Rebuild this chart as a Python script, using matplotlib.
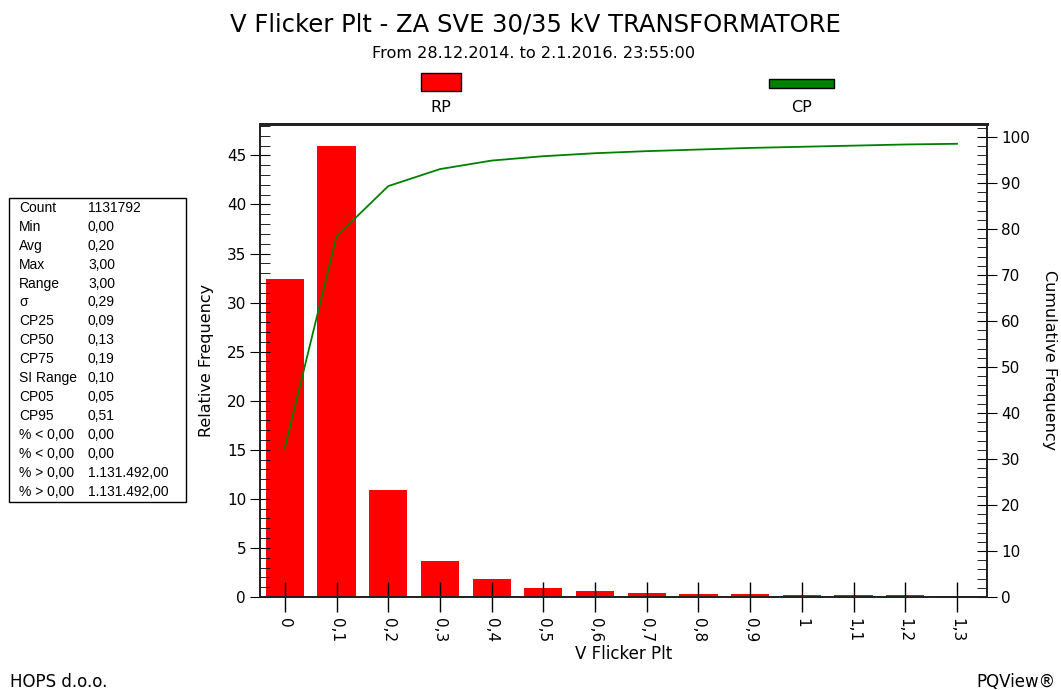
import matplotlib
matplotlib.use("Agg")
import matplotlib.pyplot as plt
from matplotlib.patches import Rectangle
from matplotlib.ticker import MultipleLocator

categories = [0.0, 0.1, 0.2, 0.3, 0.4, 0.5, 0.6, 0.7, 0.8, 0.9, 1.0, 1.1, 1.2, 1.3]
tick_labels = ["0", "0,1", "0,2", "0,3", "0,4", "0,5", "0,6", "0,7", "0,8", "0,9", "1", "1,1", "1,2", "1,3"]
rp_values = [32.4, 46.0, 10.9, 3.7, 1.85, 0.95, 0.65, 0.45, 0.35, 0.35, 0.25, 0.25, 0.25, 0.15]
cp_values = [32.4, 78.4, 89.3, 93.0, 94.85, 95.8, 96.45, 96.9, 97.25, 97.6, 97.85, 98.1, 98.35, 98.5]

stat_names = ["Count", "Min", "Avg", "Max", "Range", "σ", "CP25", "CP50", "CP75", "SI Range",
              "CP05", "CP95", "% < 0,00", "% < 0,00", "% > 0,00", "% > 0,00"]
stat_values = ["1131792", "0,00", "0,20", "3,00", "3,00", "0,29", "0,09", "0,13", "0,19", "0,10",
               "0,05", "0,51", "0,00", "0,00", "1.131.492,00", "1.131.492,00"]

plt.rcParams['font.family'] = ['DejaVu Sans']

W, H = 1061, 690
fig = plt.figure(figsize=(W / 100, H / 100), dpi=100)

def fx(px):
    return px / W

def fy(py):
    return 1 - py / H

ax = fig.add_axes([fx(260), fy(597), fx(987) - fx(260), fy(124) - fy(597)])
ax.bar(categories, rp_values, width=0.074, color="#ff0000", zorder=2)
ax.set_axisbelow(False)
ax.set_xlim(-0.048, 1.358)
ax.set_ylim(0, 48.2)
ax.set_xticks(categories)
ax.set_xticklabels(tick_labels, rotation=270, fontsize=11)
ax.tick_params(axis='x', direction='inout', length=22, width=1, pad=4)
ax.yaxis.set_major_locator(MultipleLocator(5))
ax.yaxis.set_minor_locator(MultipleLocator(1))
ax.tick_params(axis='y', which='major', direction='inout', length=14, labelsize=11, pad=3)
ax.tick_params(axis='y', which='minor', direction='in', length=7)
ax.set_ylabel("Relative Frequency", fontsize=11.5)
ax.yaxis.set_label_coords((214 - 260) / 727, 0.5)
ax.set_xlabel("V Flicker Plt", fontsize=12, labelpad=2)
for s in ax.spines.values():
    s.set_linewidth(1.3)
    s.set_color("#222222")
ax.spines['top'].set_linewidth(2)

ax2 = ax.twinx()
ax2.plot(categories, cp_values, color="#008000", linewidth=1.3, zorder=3)
ax2.set_ylim(0, 102.8)
ax2.yaxis.set_major_locator(MultipleLocator(10))
ax2.yaxis.set_minor_locator(MultipleLocator(2))
ax2.tick_params(axis='y', which='major', direction='inout', length=14, labelsize=11, pad=3)
ax2.tick_params(axis='y', which='minor', direction='in', length=7)
ax2.set_ylabel("Cumulative Frequency", fontsize=11.5, rotation=270, va='center')
ax2.yaxis.set_label_coords((1050 - 260) / 727, 0.5)
for s in ax2.spines.values():
    s.set_linewidth(1.3)
    s.set_color("#222222")
ax2.spines['top'].set_linewidth(2)

# Titles
fig.text(fx(535), fy(24), "V Flicker Plt - ZA SVE 30/35 kV TRANSFORMATORE", ha='center', va='center', fontsize=17.5)
fig.text(fx(534), fy(54), "From 28.12.2014. to 2.1.2016. 23:55:00", ha='center', va='center', fontsize=11.6)

# Legend
fig.patches.append(Rectangle((fx(421), fy(91)), fx(40), fy(73) - fy(91), transform=fig.transFigure,
                             facecolor="#ff0000", edgecolor="black", linewidth=1))
fig.text(fx(441), fy(107), "RP", ha='center', va='center', fontsize=11.5)
fig.patches.append(Rectangle((fx(769), fy(88)), fx(65), fy(79) - fy(88), transform=fig.transFigure,
                             facecolor="#008000", edgecolor="black", linewidth=1))
fig.text(fx(801), fy(107), "CP", ha='center', va='center', fontsize=11.5)

# Stats box
fig.patches.append(Rectangle((fx(9), fy(502)), fx(177), fy(198) - fy(502), transform=fig.transFigure,
                             facecolor="white", edgecolor="black", linewidth=1))
for i, (n, v) in enumerate(zip(stat_names, stat_values)):
    y = 208 + i * 18.9
    fig.text(fx(19), fy(y), n, ha='left', va='center', fontsize=10, family='Liberation Sans')
    fig.text(fx(88), fy(y), v, ha='left', va='center', fontsize=10, family='Liberation Sans')

# Footer
fig.text(fx(10), fy(682), "HOPS d.o.o.", ha='left', va='center', fontsize=12)
fig.text(fx(1055), fy(682), "PQView®", ha='right', va='center', fontsize=12)

fig.savefig("out.png", dpi=100)
